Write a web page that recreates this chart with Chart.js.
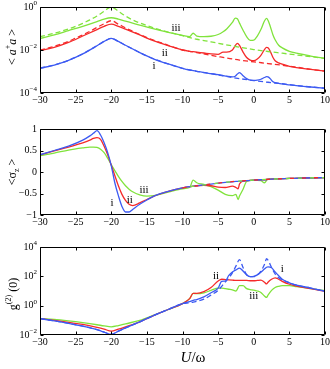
<!DOCTYPE html>
<html>
<head>
<meta charset="utf-8">
<script src="https://cdn.jsdelivr.net/npm/chart.js@4.4.1/dist/chart.umd.min.js"></script>
<style>
  body { margin: 0; background: #fff; width: 330px; height: 369px; position: relative; overflow: hidden; }
  canvas { position: absolute; left: 0; }
</style>
</head>
<body>
<canvas id="c1" width="330" height="118" style="top:0px"></canvas>
<canvas id="c2" width="330" height="120" style="top:118px"></canvas>
<canvas id="c3" width="330" height="131" style="top:238px"></canvas>
<script>
// ---- data (log10 values for the two log panels) ----
const xTicks = [-30, -25, -20, -15, -10, -5, 0, 5, 10];

// panel 1: <a+a>
const U1 = [-30,-28,-26,-24,-22,-21,-20,-19,-18,-16,-14,-12,-10,-9,-8.5,-8,-7,-6,-5,-4.3,-3.8,-3,-2.6,-2.3,-2,-1.5,-1,-0.5,0,0.5,1,1.5,1.8,2,2.3,2.7,3,3.5,4,5,6,8,10];
const photonBlue = [-2.85,-2.7,-2.48,-2.18,-1.8,-1.6,-1.46,-1.6,-1.78,-2.12,-2.42,-2.65,-2.85,-2.93,-2.96,-2.99,-3.05,-3.1,-3.15,-3.19,-3.22,-3.25,-3.22,-3.12,-3.05,-3.2,-3.33,-3.4,-3.41,-3.4,-3.36,-3.28,-3.24,-3.25,-3.33,-3.48,-3.52,-3.55,-3.58,-3.62,-3.66,-3.72,-3.78];
const photonRed = [-2.03,-1.88,-1.65,-1.35,-1.05,-0.9,-0.8,-0.9,-1.03,-1.3,-1.58,-1.8,-2.0,-2.06,-2.08,-2.1,-2.14,-2.18,-2.2,-2.1,-2.1,-2.0,-1.8,-1.69,-1.78,-2.1,-2.35,-2.47,-2.5,-2.42,-2.25,-1.98,-1.88,-1.9,-2.05,-2.35,-2.5,-2.6,-2.66,-2.76,-2.82,-2.9,-2.98];
const photonGreen = [-1.46,-1.3,-1.1,-0.9,-0.68,-0.56,-0.5,-0.56,-0.66,-0.84,-1.02,-1.18,-1.32,-1.38,-1.22,-1.35,-1.38,-1.36,-1.28,-1.15,-1.02,-0.72,-0.52,-0.55,-0.75,-1.08,-1.38,-1.55,-1.54,-1.35,-1.05,-0.65,-0.53,-0.62,-0.88,-1.3,-1.52,-1.78,-1.9,-2.06,-2.15,-2.28,-2.39];
const UD1 = [-30,-28,-26,-25,-24,-23,-22,-21,-20,-19,-18,-17,-16,-15,-14,-12,-10,-8,-6,-4,-2,0,2,4,6,8,10];
const photonBlueDash = [-2.85,-2.7,-2.48,-2.33,-2.18,-2.0,-1.8,-1.6,-1.46,-1.6,-1.78,-1.95,-2.12,-2.28,-2.42,-2.65,-2.85,-2.99,-3.1,-3.22,-3.33,-3.42,-3.5,-3.57,-3.65,-3.72,-3.78];
const photonRedDash = [-2.0,-1.83,-1.6,-1.45,-1.3,-1.13,-0.95,-0.78,-0.64,-0.8,-0.97,-1.13,-1.28,-1.42,-1.55,-1.78,-2.0,-2.12,-2.25,-2.36,-2.47,-2.55,-2.63,-2.71,-2.8,-2.9,-2.98];
const photonGreenDash = [-1.38,-1.22,-1.02,-0.9,-0.76,-0.6,-0.42,-0.2,0,-0.2,-0.42,-0.6,-0.74,-0.86,-0.98,-1.17,-1.33,-1.5,-1.62,-1.75,-1.87,-1.98,-2.07,-2.15,-2.23,-2.31,-2.39];

// panel 2: <sigma_z>
const U2 = [-30,-28,-26,-24,-23,-22.5,-22,-21.5,-21,-20.5,-20,-19.5,-19,-18.5,-18,-17.5,-17,-16,-15,-14,-12,-10,-9,-8.5,-8,-7,-6,-5,-4,-3,-2.5,-2.2,-2,-1.5,-1,0,1,1.5,2,3,5,7,10];
const sigmaBlue = [0.4,0.5,0.6,0.74,0.84,0.9,0.96,0.86,0.68,0.45,0.15,-0.25,-0.55,-0.8,-0.93,-0.93,-0.87,-0.75,-0.65,-0.56,-0.45,-0.37,-0.34,-0.33,-0.32,-0.3,-0.28,-0.26,-0.24,-0.23,-0.22,-0.22,-0.21,-0.21,-0.2,-0.19,-0.18,-0.18,-0.17,-0.16,-0.15,-0.14,-0.13];
const sigmaRed = [0.4,0.49,0.58,0.68,0.74,0.78,0.8,0.76,0.6,0.4,0.16,-0.08,-0.32,-0.52,-0.66,-0.75,-0.78,-0.72,-0.64,-0.56,-0.45,-0.37,-0.34,-0.33,-0.32,-0.31,-0.32,-0.35,-0.36,-0.33,-0.36,-0.39,-0.28,-0.21,-0.2,-0.19,-0.18,-0.18,-0.17,-0.16,-0.15,-0.14,-0.13];
const sigmaGreen = [0.38,0.44,0.51,0.56,0.58,0.58,0.57,0.53,0.45,0.32,0.17,0.03,-0.1,-0.22,-0.32,-0.4,-0.46,-0.53,-0.56,-0.55,-0.47,-0.39,-0.36,-0.19,-0.25,-0.29,-0.34,-0.42,-0.52,-0.55,-0.52,-0.64,-0.56,-0.4,-0.22,-0.19,-0.2,-0.25,-0.16,-0.16,-0.15,-0.14,-0.13];
const UD2 = [-10,-8,-6,-4,-2,0,2,4,6,8,10];
const sigmaDash = [-0.37,-0.32,-0.28,-0.24,-0.21,-0.19,-0.17,-0.155,-0.145,-0.135,-0.13];

// panel 3: g2(0)
const U3 = [-30,-28,-26,-24,-22,-21,-20,-19,-18,-16,-14,-12,-10,-9,-8.5,-8,-7,-6,-5,-4.5,-4,-3.5,-3,-2.5,-2,-1.5,-1,-0.5,0,0.5,1,1.5,1.8,2,2.5,3,3.5,4,5,6,8,10];
const g2Blue = [-0.88,-1.04,-1.2,-1.4,-1.64,-1.8,-1.96,-1.74,-1.52,-1.1,-0.66,-0.26,0.14,0.28,0.36,0.42,0.6,0.88,1.2,1.66,1.68,2.06,2.3,2.44,2.56,2.36,2.1,1.98,2.0,2.1,2.28,2.5,2.62,2.64,2.58,2.3,2.04,1.8,1.56,1.4,1.2,0.98];
const g2Red = [-0.88,-1.0,-1.14,-1.28,-1.48,-1.6,-1.74,-1.6,-1.44,-1.1,-0.66,-0.26,0.14,0.48,0.84,0.84,0.96,1.24,1.68,1.8,1.78,1.76,1.74,1.72,1.72,1.72,1.72,1.7,1.7,1.72,1.74,1.6,1.48,1.6,1.8,1.9,1.8,1.66,1.46,1.34,1.16,0.98];
const g2Green = [-0.88,-0.94,-1.04,-1.16,-1.3,-1.38,-1.44,-1.36,-1.24,-1.0,-0.64,-0.26,0.14,0.48,0.84,0.82,0.88,1.04,1.2,1.2,1.16,1.12,1.08,1.0,1.36,1.36,1.16,1.1,1.06,1.0,0.9,0.66,0.56,0.72,1.04,1.24,1.32,1.36,1.36,1.3,1.16,1.02];
const g2BlueDash = [-0.88,-1.04,-1.2,-1.4,-1.64,-1.8,-1.96,-1.74,-1.52,-1.1,-0.66,-0.26,0.14,0.2,0.24,0.3,0.44,0.72,1.04,1.32,1.6,1.9,2.24,2.7,3.14,2.6,2.12,1.98,1.98,2.1,2.36,2.8,3.2,3.1,2.6,2.16,1.9,1.76,1.56,1.4,1.2,0.98];

const BLUE = '#3c5af2';
const RED = '#f52a2a';
const GREEN = '#80e33c';

const SERIF = '"Liberation Serif", "Times New Roman", serif';
const F = (size, style) => (style ? style + ' ' : '') + size + 'px ' + SERIF;
const MINUS = '\u2212';

function series(xs, ys, color, dash, log) {
  return {
    data: xs.map((x, i) => ({ x: x, y: log ? Math.pow(10, ys[i]) : ys[i] })),
    borderColor: color,
    borderWidth: 1.3,
    borderDash: dash || [],
    pointRadius: 0,
    cubicInterpolationMode: 'monotone',
    fill: false
  };
}

function powLabel(e) {
  return [{ t: '10', f: F(10) }, { t: e < 0 ? MINUS + (-e) : String(e), f: F(7), dy: -4 }];
}
function numLabel(v) {
  return [{ t: v < 0 ? MINUS + String(-v) : String(v), f: F(10) }];
}

function drawRuns(ctx, runs, x, y, align) {
  let w = 0;
  runs.forEach(r => { ctx.font = r.f; w += ctx.measureText(r.t).width; });
  let cx = align === 'right' ? x - w : align === 'center' ? x - w / 2 : x;
  runs.forEach(r => {
    ctx.font = r.f;
    ctx.fillText(r.t, cx, y + (r.dy || 0));
    cx += ctx.measureText(r.t).width;
  });
}

// per panel decorations, keyed by canvas id
const PANELS = {
  c1: {
    yTicks: [1e-4, 1e-2, 1],
    yLabel: v => powLabel(Math.round(Math.log10(v))),
    title: [{ t: '< ', f: F(12) }, { t: 'a', f: F(12, 'italic') }, { t: '+', f: F(8), dy: -5 }, { t: 'a', f: F(12, 'italic') }, { t: ' >', f: F(12) }],
    titlePos: [13, 47],
    marks: [['iii', -10.9, 0.105], ['ii', -12.5, 0.0072], ['i', -14.0, 0.0018]]
  },
  c2: {
    yTicks: [-1, -0.5, 0, 0.5, 1],
    yLabel: numLabel,
    title: [{ t: '<', f: F(12) }, { t: '\u03c3', f: F(12) }, { t: 'z', f: F(8), dy: 4 }, { t: ' >', f: F(12) }],
    titlePos: [13, 54],
    marks: [['i', -19.9, -0.73], ['ii', -17.4, -0.66], ['iii', -15.4, -0.43]]
  },
  c3: {
    yTicks: [1e-2, 1, 1e2, 1e4],
    yLabel: v => powLabel(Math.round(Math.log10(v))),
    title: [{ t: 'g', f: F(12) }, { t: '(2)', f: F(8), dy: -5 }, { t: ' (0)', f: F(12) }],
    titlePos: [14, 56],
    marks: [['ii', -5.3, 110], ['i', 4.0, 330], ['iii', 0.0, 4.2]],
    xTitle: [{ t: 'U', f: F(15, 'italic') }, { t: '/\u03c9', f: F(15) }],
    xTitlePos: [193, 120]
  }
};

const framePlugin = {
  id: 'frame',
  afterDraw(chart) {
    const p = PANELS[chart.canvas.id];
    const { ctx, chartArea: a } = chart;
    const xs = chart.scales.x, ys = chart.scales.y;
    const L = Math.round(a.left) + 0.5, R = Math.round(a.right) - 0.5;
    const T = Math.round(a.top) + 0.5, B = Math.round(a.bottom) - 0.5;
    ctx.save();
    ctx.strokeStyle = '#000';
    ctx.lineWidth = 1;
    ctx.beginPath();
    ctx.rect(L, T, R - L, B - T);
    xTicks.forEach(v => {
      const px = Math.round(xs.getPixelForValue(v)) + 0.5;
      ctx.moveTo(px, B); ctx.lineTo(px, B - 3);
      ctx.moveTo(px, T); ctx.lineTo(px, T + 3);
    });
    p.yTicks.forEach(v => {
      const py = Math.round(ys.getPixelForValue(v)) + 0.5;
      ctx.moveTo(L, py); ctx.lineTo(L + 3, py);
      ctx.moveTo(R, py); ctx.lineTo(R - 3, py);
    });
    ctx.stroke();

    ctx.fillStyle = '#000';
    ctx.textBaseline = 'middle';
    xTicks.forEach(v => {
      drawRuns(ctx, numLabel(v), xs.getPixelForValue(v), a.bottom + 7, 'center');
    });
    p.yTicks.forEach(v => {
      drawRuns(ctx, p.yLabel(v), a.left - 3, ys.getPixelForValue(v), 'right');
    });
    p.marks.forEach(m => {
      drawRuns(ctx, [{ t: m[0], f: F(11) }], xs.getPixelForValue(m[1]), ys.getPixelForValue(m[2]), 'center');
    });

    ctx.save();
    ctx.translate(p.titlePos[0], p.titlePos[1]);
    ctx.rotate(-Math.PI / 2);
    drawRuns(ctx, p.title, 0, 0, 'center');
    ctx.restore();

    if (p.xTitle) drawRuns(ctx, p.xTitle, p.xTitlePos[0], p.xTitlePos[1], 'center');
    ctx.restore();
  }
};

function makeChart(id, datasets, yScale, pad) {
  return new Chart(document.getElementById(id), {
    type: 'line',
    data: { datasets: datasets },
    options: {
      responsive: false,
      animation: false,
      devicePixelRatio: 1,
      layout: { padding: pad },
      plugins: { legend: { display: false }, tooltip: { enabled: false } },
      scales: {
        x: { type: 'linear', min: -30, max: 10, display: false },
        y: Object.assign({ display: false }, yScale)
      }
    },
    plugins: [framePlugin]
  });
}

makeChart('c1', [
  series(UD1, photonGreenDash, GREEN, [5, 3], true),
  series(UD1, photonRedDash, RED, [5, 3], true),
  series(UD1, photonBlueDash, BLUE, [5, 3], true),
  series(U1, photonGreen, GREEN, null, true),
  series(U1, photonRed, RED, null, true),
  series(U1, photonBlue, BLUE, null, true)
], { type: 'logarithmic', min: 1e-4, max: 1 }, { left: 40, right: 5, top: 7, bottom: 25 });

makeChart('c2', [
  Object.assign(series(UD2, sigmaDash, GREEN, [4, 8], false), { borderDashOffset: 4 }),
  series(UD2, sigmaDash, RED, [4, 8], false),
  series(U2, sigmaBlue, BLUE, null, false),
  series(U2, sigmaRed, RED, null, false),
  series(U2, sigmaGreen, GREEN, null, false)
], { type: 'linear', min: -1, max: 1 }, { left: 40, right: 5, top: 11, bottom: 23 });

makeChart('c3', [
  series(U3, g2BlueDash, BLUE, [5, 3], true),
  series(U3, g2Blue, BLUE, null, true),
  series(U3, g2Red, RED, null, true),
  series(U3, g2Green, GREEN, null, true)
], { type: 'logarithmic', min: 1e-2, max: 1e4 }, { left: 40, right: 5, top: 9, bottom: 34 });
</script>
</body>
</html>
